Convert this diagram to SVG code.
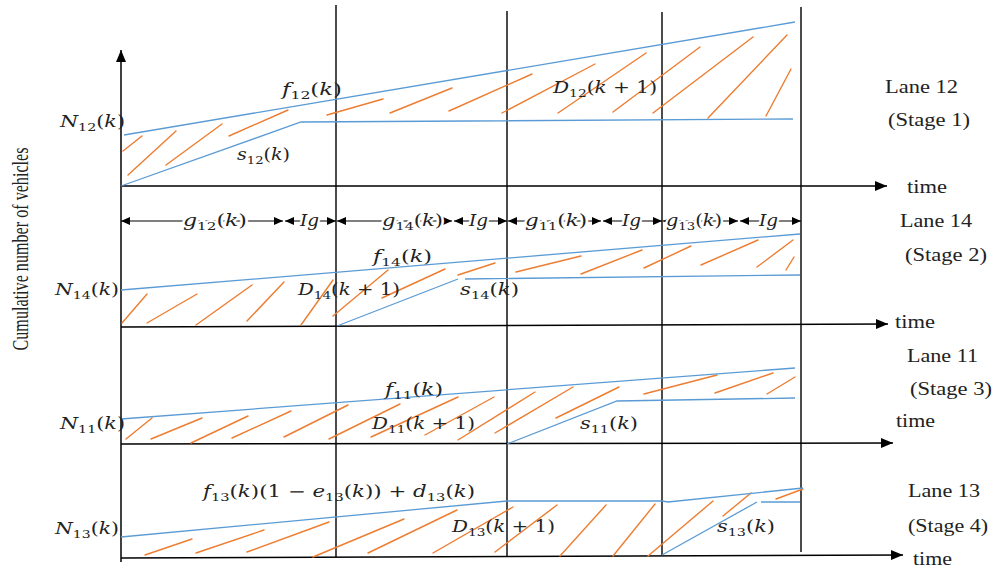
<svg xmlns="http://www.w3.org/2000/svg" width="993" height="570" viewBox="0 0 993 570">
<style>
.ax{stroke:#000;stroke-width:1.5;fill:none}
.vl{stroke:#000;stroke-width:1.4;fill:none}
.bl{stroke:#5B9BD5;stroke-width:1.3;fill:none}
.or{stroke:#ED7D31;stroke-width:1.4;fill:none;stroke-linecap:round}
.ig{stroke:#000;stroke-width:1.1;fill:none;marker-start:url(#sa);marker-end:url(#sa)}
.m{font-family:"DejaVu Serif","Liberation Serif",serif;font-size:16px;fill:#222}
.i{font-style:italic}
.s{font-size:11px}
.t{font-family:"Liberation Serif","Times New Roman",serif;font-size:19px;fill:#222}
.bg{paint-order:stroke;stroke:#fff;stroke-width:4px}
</style>
<defs>
<marker id="ah" markerWidth="13" markerHeight="10" refX="12" refY="5" orient="auto" markerUnits="userSpaceOnUse">
<path d="M0,0 L12,5 L0,10 Z" fill="#000"/>
</marker>
<marker id="sa" markerWidth="10" markerHeight="10" refX="9" refY="5" orient="auto-start-reverse" markerUnits="userSpaceOnUse">
<path d="M0,1 L9,5 L0,9 Z" fill="#000"/>
</marker>
</defs>

<g id="axes">
<path class="ax" d="M121,562 L121,50" marker-end="url(#ah)"/>
<path class="ax" d="M121,186 L887,186" marker-end="url(#ah)"/>
<path class="ax" d="M121,327 L888,324" marker-end="url(#ah)"/>
<path class="ax" d="M121,444 L893,443" marker-end="url(#ah)"/>
<path class="ax" d="M121,558 L903,555" marker-end="url(#ah)"/>
<path class="vl" d="M336,5 L336,557 M507,11 L507,557 M662,12 L662,555 M801,7 L801,552"/>
</g>

<g id="hatching">
<path class="or" d="M123,151L142,136M128,175L176,131M166,165L222,124M229,136L288,110M327,115L383,99M390,113L452,88M449,111L532,74M502,113L595,64M558,113L646,53M613,112L700,47M653,113L753,37M708,118L787,35M766,116L791,69"/>
<path class="or" d="M122,323L147,294M147,323L197,294M196,325L252,285M247,321L284,282M301,325L333,280M333,316L388,270M382,298L445,269M458,275L495,263M516,272L581,256M581,274L642,250M644,268L691,246M701,265L758,240M757,267L793,240M786,270L794,257"/>
<path class="or" d="M126,439L152,418M151,439L202,418M191,443L248,416M232,438L291,411M284,437L348,405M329,439L400,404M371,437L458,397M425,435L494,397M458,440L535,392M495,433L573,387M556,418L619,387M644,394L717,375M715,393L773,373M767,394L795,377"/>
<path class="or" d="M145,555L192,539M196,553L264,530M247,552L329,522M313,557L404,519M368,553L457,510M433,553L513,507M495,552L557,505M560,556L606,505M613,556L655,504M648,556L713,501M723,516L751,493M776,499L803,489"/>
</g>

<g id="connectors">
<path class="bl" d="M124,135 L795,22"/>
<path class="bl" d="M121,186 L301,122 L793,119"/>
<path class="bl" d="M121,290 L800,234"/>
<path class="bl" d="M337,326 L458,279 M465,279 L800,275"/>
<path class="bl" d="M121,419 L795,368"/>
<path class="bl" d="M507,444 L617,401 L795,398"/>
<path class="bl" d="M121,537 L507,501 L662,501 L668,502 L803,488"/>
<path class="bl" d="M662,555 L757,502 M761,502 L800,502"/>
</g>

<g id="timing">
<path class="ig" d="M121,221 L283,221"/>
<path class="ig" d="M285,221 L336,221"/>
<path class="ig" d="M337,221 L452,221"/>
<path class="ig" d="M454,221 L507,221"/>
<path class="ig" d="M508,221 L601,221"/>
<path class="ig" d="M603,221 L662,221"/>
<path class="ig" d="M663,221 L738,221"/>
<path class="ig" d="M740,221 L801,221"/>
<text class="m bg" x="183" y="226" textLength="64" lengthAdjust="spacingAndGlyphs"><tspan class="i">g</tspan><tspan class="s" dy="4">12</tspan><tspan dy="-4">(</tspan><tspan class="i">k</tspan>)</text>
<text class="m i bg" x="300" y="226" textLength="19" lengthAdjust="spacingAndGlyphs">Ig</text>
<text class="m bg" x="382" y="226" textLength="61" lengthAdjust="spacingAndGlyphs"><tspan class="i">g</tspan><tspan class="s" dy="4">14</tspan><tspan dy="-4">(</tspan><tspan class="i">k</tspan>)</text>
<text class="m i bg" x="469" y="226" textLength="19" lengthAdjust="spacingAndGlyphs">Ig</text>
<text class="m bg" x="525" y="226" textLength="62" lengthAdjust="spacingAndGlyphs"><tspan class="i">g</tspan><tspan class="s" dy="4">11</tspan><tspan dy="-4">(</tspan><tspan class="i">k</tspan>)</text>
<text class="m i bg" x="622" y="226" textLength="19" lengthAdjust="spacingAndGlyphs">Ig</text>
<text class="m bg" x="666" y="226" textLength="56" lengthAdjust="spacingAndGlyphs"><tspan class="i">g</tspan><tspan class="s" dy="4">13</tspan><tspan dy="-4">(</tspan><tspan class="i">k</tspan>)</text>
<text class="m i bg" x="759" y="226" textLength="19" lengthAdjust="spacingAndGlyphs">Ig</text>
</g>

<g id="lane12">
<text class="m" x="60" y="127" textLength="65" lengthAdjust="spacingAndGlyphs"><tspan class="i">N</tspan><tspan class="s" dy="4">12</tspan><tspan dy="-4">(</tspan><tspan class="i">k</tspan>)</text>
<text class="m" x="282" y="95" textLength="60" lengthAdjust="spacingAndGlyphs"><tspan class="i">f</tspan><tspan class="s" dy="4">12</tspan><tspan dy="-4">(</tspan><tspan class="i">k</tspan>)</text>
<text class="m" x="237" y="160" textLength="53" lengthAdjust="spacingAndGlyphs"><tspan class="i">s</tspan><tspan class="s" dy="4">12</tspan><tspan dy="-4">(</tspan><tspan class="i">k</tspan>)</text>
<text class="m" x="553" y="93" textLength="104" lengthAdjust="spacingAndGlyphs"><tspan class="i">D</tspan><tspan class="s" dy="4">12</tspan><tspan dy="-4">(</tspan><tspan class="i">k</tspan> + 1)</text>
<text class="t" x="885" y="93" textLength="73" lengthAdjust="spacingAndGlyphs">Lane 12</text>
<text class="t" x="888" y="126" textLength="82" lengthAdjust="spacingAndGlyphs">(Stage 1)</text>
<text class="t" x="907" y="193" textLength="40" lengthAdjust="spacingAndGlyphs">time</text>
</g>

<g id="lane14">
<text class="m" x="55" y="295" textLength="64" lengthAdjust="spacingAndGlyphs"><tspan class="i">N</tspan><tspan class="s" dy="4">14</tspan><tspan dy="-4">(</tspan><tspan class="i">k</tspan>)</text>
<text class="m" x="373" y="262" textLength="59" lengthAdjust="spacingAndGlyphs"><tspan class="i">f</tspan><tspan class="s" dy="4">14</tspan><tspan dy="-4">(</tspan><tspan class="i">k</tspan>)</text>
<text class="m" x="298" y="295" textLength="102" lengthAdjust="spacingAndGlyphs"><tspan class="i">D</tspan><tspan class="s" dy="4">14</tspan><tspan dy="-4">(</tspan><tspan class="i">k</tspan> + 1)</text>
<text class="m" x="460" y="295" textLength="59" lengthAdjust="spacingAndGlyphs"><tspan class="i">s</tspan><tspan class="s" dy="4">14</tspan><tspan dy="-4">(</tspan><tspan class="i">k</tspan>)</text>
<text class="t" x="900" y="227" textLength="72" lengthAdjust="spacingAndGlyphs">Lane 14</text>
<text class="t" x="905" y="261" textLength="82" lengthAdjust="spacingAndGlyphs">(Stage 2)</text>
<text class="t" x="895" y="328" textLength="40" lengthAdjust="spacingAndGlyphs">time</text>
</g>

<g id="lane11">
<text class="m" x="60" y="429" textLength="65" lengthAdjust="spacingAndGlyphs"><tspan class="i">N</tspan><tspan class="s" dy="4">11</tspan><tspan dy="-4">(</tspan><tspan class="i">k</tspan>)</text>
<text class="m" x="385" y="395" textLength="58" lengthAdjust="spacingAndGlyphs"><tspan class="i">f</tspan><tspan class="s" dy="4">11</tspan><tspan dy="-4">(</tspan><tspan class="i">k</tspan>)</text>
<text class="m" x="372" y="429" textLength="103" lengthAdjust="spacingAndGlyphs"><tspan class="i">D</tspan><tspan class="s" dy="4">11</tspan><tspan dy="-4">(</tspan><tspan class="i">k</tspan> + 1)</text>
<text class="m" x="580" y="429" textLength="58" lengthAdjust="spacingAndGlyphs"><tspan class="i">s</tspan><tspan class="s" dy="4">11</tspan><tspan dy="-4">(</tspan><tspan class="i">k</tspan>)</text>
<text class="t" x="907" y="362" textLength="71" lengthAdjust="spacingAndGlyphs">Lane 11</text>
<text class="t" x="910" y="395" textLength="82" lengthAdjust="spacingAndGlyphs">(Stage 3)</text>
<text class="t" x="896" y="427" textLength="39" lengthAdjust="spacingAndGlyphs">time</text>
</g>

<g id="lane13">
<text class="m" x="55" y="534" textLength="64" lengthAdjust="spacingAndGlyphs"><tspan class="i">N</tspan><tspan class="s" dy="4">13</tspan><tspan dy="-4">(</tspan><tspan class="i">k</tspan>)</text>
<text class="m" x="203" y="497" textLength="272" lengthAdjust="spacingAndGlyphs"><tspan class="i">f</tspan><tspan class="s" dy="4">13</tspan><tspan dy="-4">(</tspan><tspan class="i">k</tspan>)(1 − <tspan class="i">e</tspan><tspan class="s" dy="4">13</tspan><tspan dy="-4">(</tspan><tspan class="i">k</tspan>)) + <tspan class="i">d</tspan><tspan class="s" dy="4">13</tspan><tspan dy="-4">(</tspan><tspan class="i">k</tspan>)</text>
<text class="m" x="452" y="532" textLength="103" lengthAdjust="spacingAndGlyphs"><tspan class="i">D</tspan><tspan class="s" dy="4">13</tspan><tspan dy="-4">(</tspan><tspan class="i">k</tspan> + 1)</text>
<text class="m" x="717" y="532" textLength="58" lengthAdjust="spacingAndGlyphs"><tspan class="i">s</tspan><tspan class="s" dy="4">13</tspan><tspan dy="-4">(</tspan><tspan class="i">k</tspan>)</text>
<text class="t" x="908" y="497" textLength="72" lengthAdjust="spacingAndGlyphs">Lane 13</text>
<text class="t" x="908" y="532" textLength="80" lengthAdjust="spacingAndGlyphs">(Stage 4)</text>
<text class="t" x="913" y="565" textLength="39" lengthAdjust="spacingAndGlyphs">time</text>
</g>

<g id="ylabel">
<text class="t" transform="translate(28,249) rotate(-90) scale(1,1.4)" text-anchor="middle" style="font-size:16px" textLength="203" lengthAdjust="spacingAndGlyphs">Cumulative number of vehicles</text>
</g>
</svg>
